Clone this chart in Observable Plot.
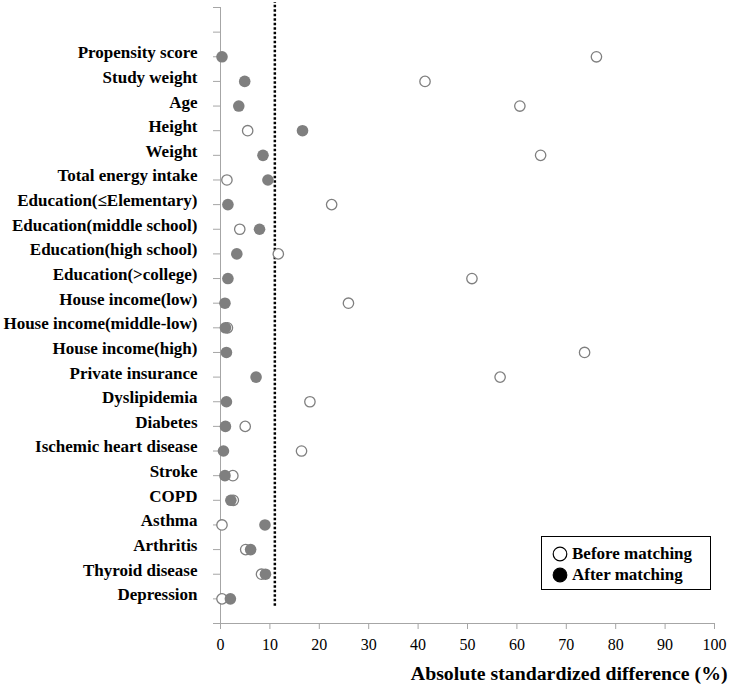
<!DOCTYPE html>
<html>
<head>
<meta charset="utf-8">
<script src="https://cdn.jsdelivr.net/npm/d3@7"></script>
<script src="https://cdn.jsdelivr.net/npm/@observablehq/plot@0.6"></script>
<style>
  html, body { margin: 0; padding: 0; background: #fff; }
  #wrap { position: relative; width: 730px; height: 689px; font-family: "Liberation Serif", "Times New Roman", serif; }
  #legend { position: absolute; left: 541px; top: 536px; width: 168px; height: 52px; border: 1px solid #000; background: #fff; box-sizing: content-box; }
  .lg-row { position: absolute; left: 0; height: 20px; display: flex; align-items: center; font-weight: bold; font-size: 17px; color: #000; white-space: nowrap; }
  .lg-row svg { margin-left: 10px; margin-right: 4px; }
</style>
</head>
<body>
<div id="wrap"></div>
<script>
const categories = [
  "Propensity score", "Study weight", "Age", "Height", "Weight", "Total energy intake",
  "Education(\u2264Elementary)", "Education(middle school)", "Education(high school)",
  "Education(>college)", "House income(low)", "House income(middle-low)", "House income(high)",
  "Private insurance", "Dyslipidemia", "Diabetes", "Ischemic heart disease", "Stroke",
  "COPD", "Asthma", "Arthritis", "Thyroid disease", "Depression"
];
const beforeMatching = [76.1, 41.4, 60.6, 5.5, 64.8, 1.3, 22.5, 3.9, 11.7, 50.9, 25.9, 1.4, 73.7, 56.6, 18.1, 5.0, 16.4, 2.5, 2.6, 0.3, 5.1, 8.3, 0.3];
const afterMatching  = [0.3, 4.9, 3.7, 16.6, 8.6, 9.6, 1.5, 7.9, 3.3, 1.5, 0.9, 1.0, 1.2, 7.2, 1.2, 1.0, 0.6, 0.9, 2.1, 9.0, 6.1, 9.1, 2.0];
const xTicks = [0, 10, 20, 30, 40, 50, 60, 70, 80, 90, 100];
const yTicks = d3.range(0, 26);
const threshold = [11];
const xTitle = "Absolute standardized difference (%)";
const legendLabels = ["Before matching", "After matching"];

const rows = categories.map((name, i) => ({
  name, pos: categories.length - i, before: beforeMatching[i], after: afterMatching[i]
}));

const axisGray = "#a6a6a6";
const dotGray = "#7f7f7f";

const chart = Plot.plot({
  width: 730,
  height: 689,
  marginTop: 7,
  marginBottom: 66,
  marginLeft: 220,
  marginRight: 16,
  x: { domain: [0, 100] },
  y: { domain: [0, 25] },
  style: { fontFamily: "'Liberation Serif', 'Times New Roman', serif", background: "white", color: "black" },
  marks: [
    Plot.ruleX([0], { stroke: axisGray }),
    Plot.ruleY([0], { stroke: axisGray }),
    Plot.axisY({ ticks: yTicks, tickSize: 7, stroke: axisGray, tickFormat: () => "", label: null }),
    Plot.axisX({ ticks: xTicks, tickSize: 6, tickPadding: 9, stroke: axisGray, fill: "black", fontSize: 16, label: null }),
    Plot.text(rows, { x: () => 0, y: "pos", text: "name", textAnchor: "end", dx: -23, dy: -4, fontSize: 17, fontWeight: "bold", fill: "black" }),
    Plot.ruleX(threshold, { y1: 0.7, y2: 25.2, stroke: "black", strokeWidth: 2.5, strokeDasharray: "2.5,2" }),
    Plot.dot(rows, { x: "before", y: "pos", r: 5.2, fill: "white", stroke: dotGray, strokeWidth: 1.3 }),
    Plot.dot(rows, { x: "after", y: "pos", r: 5.8, fill: dotGray, stroke: "none" }),
    Plot.text([xTitle], { frameAnchor: "bottom-right", text: d => d, dx: 13, dy: 56, lineAnchor: "bottom", textAnchor: "end", fontSize: 19.8, fontWeight: "bold", fill: "black" })
  ]
});

const wrap = document.getElementById("wrap");
wrap.appendChild(chart);

const legend = document.createElement("div");
legend.id = "legend";
legendLabels.forEach((label, i) => {
  const row = document.createElement("div");
  row.className = "lg-row";
  row.style.top = (7 + i * 21) + "px";
  const filled = i === 1;
  row.innerHTML = `<svg width="16" height="16"><circle cx="8" cy="8" r="6.8" fill="${filled ? "black" : "white"}" stroke="black" stroke-width="1.2"/></svg><span>${label}</span>`;
  legend.appendChild(row);
});
wrap.appendChild(legend);
</script>
</body>
</html>
